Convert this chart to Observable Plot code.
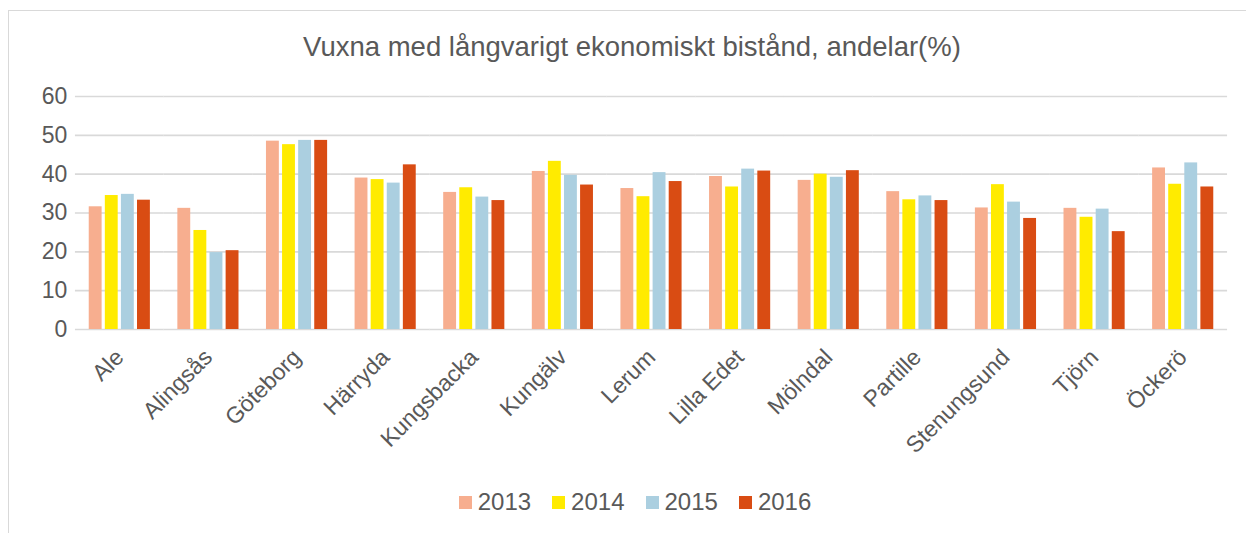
<!DOCTYPE html>
<html>
<head>
<meta charset="utf-8">
<script src="https://cdn.jsdelivr.net/npm/d3@7"></script>
<script src="https://cdn.jsdelivr.net/npm/@observablehq/plot@0.6"></script>
<style>
  html, body { margin: 0; padding: 0; background: #fff; }
  #wrap { position: relative; width: 1246px; height: 533px; overflow: hidden; font-family: "Liberation Sans", Arial, sans-serif; color: #595959; }
  #frame { position: absolute; left: 8px; top: 10px; width: 1300px; height: 600px; border-left: 1.5px solid #d9d9d9; border-top: 1.5px solid #d9d9d9; }
  #title { position: absolute; left: 0; top: 31px; width: 1264px; text-align: center; font-size: 27.5px; color: #595959; }
  #chart { position: absolute; left: 0; top: 70px; }
  #legend { position: absolute; left: 0; top: 488px; width: 1270px; display: flex; justify-content: center; font-size: 24px; color: #595959; }
  .item { display: flex; align-items: center; margin-right: 21px; }
  .item:last-child { margin-right: 0; }
  .sw { width: 13px; height: 13px; margin-right: 6px; }
</style>
</head>
<body>
<div id="wrap">
  <div id="frame"></div>
  <div id="title"></div>
  <div id="chart"></div>
  <div id="legend"></div>
</div>
<script>
const titleText = "Vuxna med långvarigt ekonomiskt bistånd, andelar(%)";
const categories = ["Ale","Alingsås","Göteborg","Härryda","Kungsbacka","Kungälv","Lerum","Lilla Edet","Mölndal","Partille","Stenungsund","Tjörn","Öckerö"];
const years = ["2013","2014","2015","2016"];
const v2013 = [31.6,31.2,48.5,39.0,35.3,40.7,36.3,39.4,38.4,35.5,31.3,31.2,41.6];
const v2014 = [34.5,25.5,47.6,38.6,36.5,43.3,34.2,36.7,40.0,33.4,37.3,28.9,37.4];
const v2015 = [34.8,19.8,48.7,37.7,34.1,39.7,40.4,41.3,39.2,34.4,32.8,31.0,42.9];
const v2016 = [33.3,20.3,48.7,42.4,33.2,37.2,38.1,40.8,40.9,33.2,28.6,25.2,36.7];
const colors = ["#f7ae8f","#ffeb00","#abcfe0","#d94c13"];
const yTicks = [0,10,20,30,40,50,60];

const series = [v2013, v2014, v2015, v2016];
const data = categories.flatMap((c, i) => years.map((y, j) => ({cat: c, year: y, value: series[j][i]})));

document.getElementById("title").textContent = titleText;

const chart = Plot.plot({
  width: 1246,
  height: 389,
  marginLeft: 75,
  marginRight: 19,
  marginTop: 26,
  marginBottom: 130,
  style: {fontSize: "23px", fontFamily: "'Liberation Sans', Arial, sans-serif", color: "#595959", background: "transparent"},
  fx: {domain: categories, paddingInner: 0.31, paddingOuter: 0.155, round: false, label: null, tickRotate: -45, tickSize: 0, tickPadding: 24},
  x: {domain: years, paddingInner: 0.2, paddingOuter: 0, round: false, axis: null},
  y: {domain: [0, 60], ticks: yTicks, label: null, tickSize: 0, tickPadding: 22},
  color: {domain: years, range: colors},
  marks: [
    Plot.ruleY(yTicks, {stroke: "#d9d9d9", strokeWidth: 1.6, insetLeft: -13.8, insetRight: -13.8}),
    Plot.barY(data, {fx: "cat", x: "year", y: "value", fill: "year"})
  ]
});
document.getElementById("chart").appendChild(chart);

const legend = document.getElementById("legend");
years.forEach((y, j) => {
  const item = document.createElement("div");
  item.className = "item";
  const sw = document.createElement("div");
  sw.className = "sw";
  sw.style.background = colors[j];
  const t = document.createElement("span");
  t.textContent = y;
  item.appendChild(sw);
  item.appendChild(t);
  legend.appendChild(item);
});
</script>
</body>
</html>
